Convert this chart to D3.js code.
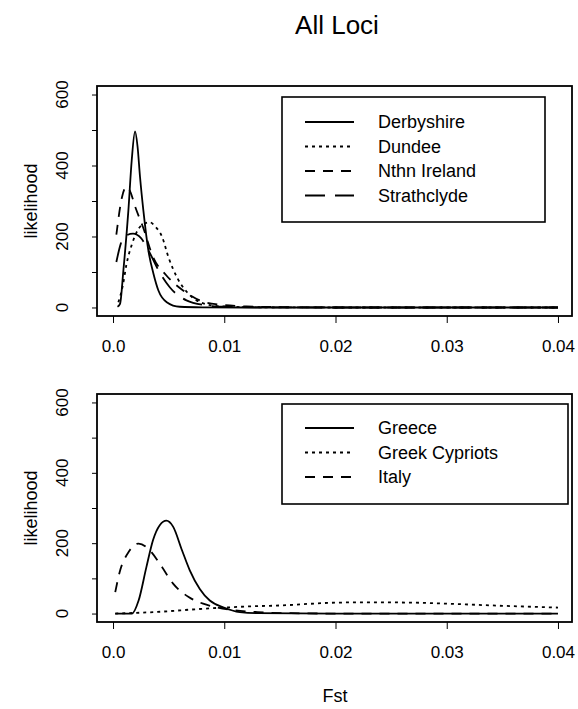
<!DOCTYPE html>
<html>
<head>
<meta charset="utf-8">
<script src="https://cdn.jsdelivr.net/npm/d3@7"></script>
<style>
  body { margin: 0; background: #fff; }
  text { font-family: "Liberation Sans", Arial, sans-serif; fill: #000; }
</style>
</head>
<body>
<div id="chart"></div>
<script>
// values (Fst, likelihood)
var derbyshireFst = [0.0004, 0.00063, 0.00093, 0.00138, 0.00168, 0.00198, 0.0022, 0.00243, 0.00273, 0.00318, 0.00363, 0.00408, 0.00483, 0.006, 0.008, 0.012, 0.02, 0.03, 0.04];
var derbyshireL = [2, 10, 104, 273, 414, 496, 455, 367, 273, 160, 96, 48, 15, 2, 0.5, 0, 0, 0, 0];
var dundeeFst = [0.00048, 0.0009, 0.0012, 0.0017, 0.0023, 0.0028, 0.0033, 0.0038, 0.0044, 0.005, 0.0058, 0.0066, 0.0079, 0.0095, 0.012, 0.02, 0.03, 0.04];
var dundeeL = [15, 65, 120, 178, 222, 236, 240, 228, 200, 140, 82, 45, 14, 4, 1, 0, 0, 0];
var irelandFst = [0.0003, 0.0008, 0.0012, 0.0015, 0.002, 0.0027, 0.0036, 0.0048, 0.0063, 0.0078, 0.0096, 0.012, 0.015, 0.02, 0.03, 0.04];
var irelandL = [205, 310, 340, 330, 283, 226, 142, 90, 48, 20, 8, 3, 1, 0, 0, 0];
var strathFst = [0.0003, 0.0007, 0.0012, 0.0018, 0.0025, 0.0032, 0.0041, 0.0051, 0.0066, 0.0084, 0.010, 0.013, 0.02, 0.03, 0.04];
var strathL = [128, 180, 203, 208, 196, 160, 104, 57, 20, 6, 2, 0.5, 0, 0, 0];

var greeceFst = [0.0002, 0.0017, 0.0023, 0.003, 0.0036, 0.0042, 0.0048, 0.0054, 0.0062, 0.0069, 0.0078, 0.0087, 0.0099, 0.0114, 0.013, 0.02, 0.03, 0.04];
var greeceL = [0, 0, 37, 132, 209, 251, 264, 247, 180, 123, 70, 37, 18, 4, 1, 0, 0, 0];
var cypriotFst = [0.0002, 0.0036, 0.0078, 0.01, 0.012, 0.015, 0.02, 0.023, 0.027, 0.03, 0.035, 0.04];
var cypriotL = [0, 4, 13, 17, 20, 23, 31, 32, 31, 28, 22, 17];
var italyFst = [0.0002, 0.0006, 0.0014, 0.0023, 0.0033, 0.0044, 0.0054, 0.0068, 0.0081, 0.0093, 0.011, 0.013, 0.016, 0.02, 0.03, 0.04];
var italyL = [61, 118, 175, 199, 180, 132, 85, 47, 28, 18, 9, 4, 1, 0, 0, 0];

var xTicks = [0, 0.01, 0.02, 0.03, 0.04];
var xTickLabels = ["0.0", "0.01", "0.02", "0.03", "0.04"];
var yTicks = [0, 100, 200, 300, 400, 500, 600];
var yLabelTicks = [0, 200, 400, 600];

var topSeries = [
  { name: "Derbyshire", fst: derbyshireFst, val: derbyshireL, dash: null },
  { name: "Dundee", fst: dundeeFst, val: dundeeL, dash: "3,4" },
  { name: "Nthn Ireland", fst: irelandFst, val: irelandL, dash: "10,8" },
  { name: "Strathclyde", fst: strathFst, val: strathL, dash: "20,10" },
];
var bottomSeries = [
  { name: "Greece", fst: greeceFst, val: greeceL, dash: null },
  { name: "Greek Cypriots", fst: cypriotFst, val: cypriotL, dash: "3,4" },
  { name: "Italy", fst: italyFst, val: italyL, dash: "10,8" },
];

const W = 578, H = 709;
var svg = d3.select("#chart").append("svg")
  .attr("width", W).attr("height", H);

svg.append("text")
  .attr("x", 337).attr("y", 34)
  .attr("text-anchor", "middle")
  .style("font-size", "26px")
  .text("All Loci");

const x = d3.scaleLinear().domain([-0.00144, 0.04126]).range([97, 572]);

function panel(top, bottom, series, legend) {
  const y = d3.scaleLinear().domain([-24, 624]).range([bottom, top]);
  var g = svg.append("g");

  // x axis ticks + labels
  g.append("g")
    .attr("transform", `translate(0,${bottom})`)
    .call(d3.axisBottom(x).tickValues(xTicks).tickSize(7).tickPadding(17)
      .tickFormat((d, i) => xTickLabels[i]))
    .call((a) => a.select(".domain").remove())
    .selectAll("text").style("font-size", "17px");

  // y axis ticks
  var ya = g.append("g")
    .attr("transform", `translate(${x.range()[0]},0)`)
    .call(d3.axisLeft(y).tickValues(yTicks).tickSize(5).tickFormat(""));
  ya.select(".domain").remove();
  g.selectAll("text.ylab")
    .data(yLabelTicks)
    .join("text")
    .attr("class", "ylab")
    .attr("transform", (d) => `translate(68,${y(d)}) rotate(-90)`)
    .attr("text-anchor", "middle")
    .style("font-size", "17px")
    .text((d) => d);

  g.append("text")
    .attr("transform", `translate(37,${(top + bottom) / 2}) rotate(-90)`)
    .attr("text-anchor", "middle")
    .style("font-size", "18px")
    .text("likelihood");

  // curves
  var line = d3.line()
    .x((d) => x(d[0]))
    .y((d) => y(d[1]))
    .curve(d3.curveMonotoneX);
  g.selectAll("path.curve")
    .data(series)
    .join("path")
    .attr("class", "curve")
    .attr("d", (s) => line(s.fst.map((f, i) => [f, s.val[i]])))
    .attr("fill", "none")
    .attr("stroke", "#000")
    .attr("stroke-width", 1.8)
    .attr("stroke-dasharray", (s) => s.dash);

  // frame
  g.append("rect")
    .attr("x", x.range()[0]).attr("y", top)
    .attr("width", x.range()[1] - x.range()[0])
    .attr("height", bottom - top)
    .attr("fill", "none").attr("stroke", "#000").attr("stroke-width", 1.8);

  // legend
  var lg = g.append("g");
  lg.append("rect")
    .attr("x", legend.x).attr("y", legend.y)
    .attr("width", legend.w).attr("height", legend.h)
    .attr("fill", "#fff").attr("stroke", "#000").attr("stroke-width", 1.6);
  series.forEach(function (s, i) {
    var cy = legend.first + i * legend.step;
    lg.append("line")
      .attr("x1", 305).attr("x2", 354)
      .attr("y1", cy).attr("y2", cy)
      .attr("stroke", "#000").attr("stroke-width", 1.8)
      .attr("stroke-dasharray", s.dash);
    lg.append("text")
      .attr("x", 378).attr("y", cy)
      .attr("dy", "0.36em")
      .style("font-size", "18px")
      .text(s.name);
  });
}

panel(86, 316, topSeries, { x: 282, y: 97, w: 263, h: 125, first: 122, step: 24.5 });
panel(394, 622, bottomSeries, { x: 282, y: 404, w: 286, h: 100, first: 428, step: 24.5 });

svg.append("text")
  .attr("x", 335).attr("y", 702)
  .attr("text-anchor", "middle")
  .style("font-size", "18px")
  .text("Fst");
</script>
</body>
</html>
